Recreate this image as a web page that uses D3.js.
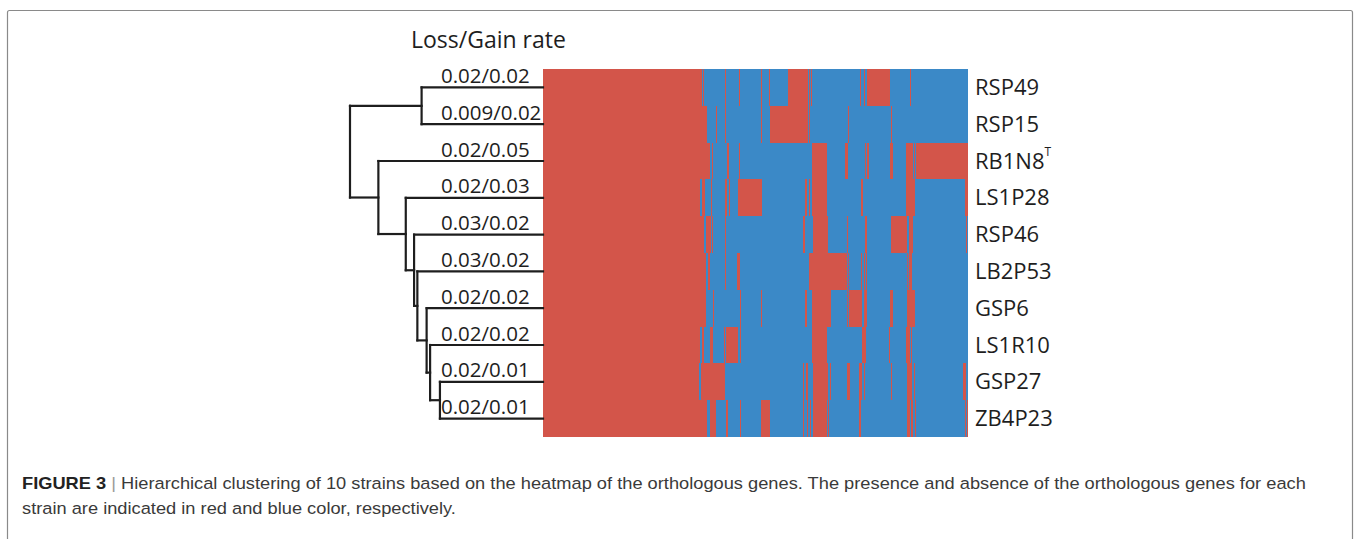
<!DOCTYPE html>
<html>
<head>
<meta charset="utf-8">
<script src="https://cdn.jsdelivr.net/npm/d3@7/dist/d3.min.js"></script>
<style>
  html, body { margin: 0; padding: 0; background: #fff; }
  svg { display: block; }
</style>
</head>
<body>
<svg id="chart" width="1354" height="539"></svg>
<script>
// ---------------- DATA ----------------
const strains = ["RSP49", "RSP15", "RB1N8", "LS1P28", "RSP46", "LB2P53", "GSP6", "LS1R10", "GSP27", "ZB4P23"];
const superscripts = ["", "", "T", "", "", "", "", "", "", ""];
const rates = ["0.02/0.02", "0.009/0.02", "0.02/0.05", "0.02/0.03", "0.03/0.02", "0.03/0.02", "0.02/0.02", "0.02/0.02", "0.02/0.01", "0.02/0.01"];
const geneCount = 425;
// presence runs (red) per strain, [startGene, endGene); remaining genes are absent (blue)
const presenceRuns = [
  [[0,159],[160,161],[182,183],[196,197],[218,219],[226,227],[245,265],[266,267],[268,269],[317,318],[321,322],[324,347],[367,368]],
  [[0,164],[173,174],[182,183],[218,219],[227,265],[266,267],[305,306],[348,349]],
  [[0,167],[169,170],[184,186],[196,197],[269,284],[302,305],[322,323],[324,326],[347,350],[363,370],[371,372],[373,425]],
  [[0,157],[159,162],[168,169],[182,184],[186,187],[195,219],[262,264],[266,267],[269,284],[318,320],[363,364],[364,372],[422,425]],
  [[0,161],[163,168],[169,170],[182,183],[260,262],[270,285],[304,305],[322,324],[348,364],[366,370],[423,424]],
  [[0,163],[165,167],[182,183],[194,197],[266,304],[305,306],[318,319],[321,322],[323,324],[364,365],[366,369]],
  [[0,163],[170,171],[197,198],[218,219],[262,264],[269,288],[304,305],[306,319],[321,322],[322,324],[347,350],[364,372]],
  [[0,157],[159,161],[167,170],[181,182],[183,195],[197,198],[269,284],[319,323],[346,347],[363,367],[368,369]],
  [[0,156],[158,182],[260,261],[263,265],[270,285],[287,288],[304,307],[316,319],[321,322],[348,349],[364,369],[371,372],[420,423]],
  [[0,164],[167,173],[183,185],[197,198],[218,227],[260,261],[264,265],[267,268],[270,284],[285,286],[316,318],[364,367],[368,370],[372,373],[422,423],[424,425]]
];
// dendrogram: merge heights (relative distance, leaves = 0)
const tree = {h: 1.0, children: [
  {h: 0.629, children: [{leaf: "RSP49"}, {leaf: "RSP15"}]},
  {h: 0.853, children: [
    {leaf: "RB1N8"},
    {h: 0.711, children: [
      {leaf: "LS1P28"},
      {h: 0.668, children: [
        {leaf: "RSP46"},
        {h: 0.651, children: [
          {leaf: "LB2P53"},
          {h: 0.603, children: [
            {leaf: "GSP6"},
            {h: 0.585, children: [
              {leaf: "LS1R10"},
              {h: 0.534, children: [{leaf: "GSP27"}, {leaf: "ZB4P23"}]}
            ]}
          ]}
        ]}
      ]}
    ]}
  ]}
]};
const headerText = "Loss/Gain rate";
const captionBold = "FIGURE 3";
const captionLine1 = "Hierarchical clustering of 10 strains based on the heatmap of the orthologous genes. The presence and absence of the orthologous genes for each";
const captionLine2 = "strain are indicated in red and blue color, respectively.";

// ---------------- DRAW ----------------
const RED = "#d3554a", BLUE = "#3b89c7";
const svg = d3.select("#chart");

// frame
svg.append("path")
  .attr("d", "M7.5,545 V12.5 Q7.5,10.5 9.5,10.5 H1350.5 Q1352.5,10.5 1352.5,12.5 V545")
  .attr("fill", "none").attr("stroke", "#8a8a8a").attr("stroke-width", 1.2);

const x = d3.scaleLinear().domain([0, geneCount]).range([543, 968]);
const y = d3.scaleBand().domain(strains).range([69, 437]).padding(0);
const rowTop = s => Math.round(y(s));
const rowBottom = s => Math.round(y(s) + y.bandwidth());

// heatmap: blue (absent) background, red (present) runs per strain
const hm = svg.append("g");
hm.append("rect")
  .attr("x", x(0)).attr("y", rowTop(strains[0]))
  .attr("width", x(geneCount) - x(0)).attr("height", rowBottom(strains[strains.length - 1]) - rowTop(strains[0]))
  .attr("fill", BLUE);
strains.forEach((s, i) => {
  hm.append("g").selectAll("rect").data(presenceRuns[i]).join("rect")
    .attr("x", d => x(d[0])).attr("y", rowTop(s))
    .attr("width", d => x(d[1]) - x(d[0])).attr("height", rowBottom(s) - rowTop(s))
    .attr("fill", RED);
});

// dendrogram
const root = d3.hierarchy(tree);
const dx = d3.scaleLinear().domain([0, 1]).range([543, 350]);
root.eachAfter(n => {
  if (n.data.leaf) { n.py = y(n.data.leaf) + y.bandwidth() / 2; n.px = dx(0); }
  else { n.py = d3.mean(n.children, c => c.py); n.px = dx(n.data.h); }
});
const dg = svg.append("g").attr("fill", "none").attr("stroke", "#1e1e1e").attr("stroke-width", 2.2).attr("stroke-linecap", "square");
root.each(n => {
  if (!n.children) return;
  const ys = n.children.map(c => c.py);
  dg.append("line").attr("x1", n.px).attr("x2", n.px).attr("y1", d3.min(ys)).attr("y2", d3.max(ys));
  n.children.forEach(c => {
    dg.append("line").attr("x1", n.px).attr("x2", c.children ? c.px : x(0)).attr("y1", c.py).attr("y2", c.py);
  });
});

// rate labels
svg.append("g").selectAll("text").data(rates).join("text")
  .attr("x", 441).attr("y", (d, i) => y(strains[i]) + y.bandwidth() / 2 - 4.5)
  .attr("font-family", "'Open Sans', sans-serif").attr("font-size", 20.5).attr("fill", "#1e1e1e")
  .text(d => d);

svg.append("text").attr("x", 411).attr("y", 47.5)
  .attr("font-family", "'Open Sans', sans-serif").attr("font-size", 23).attr("fill", "#1e1e1e")
  .text(headerText);

// strain labels
const sl = svg.append("g").selectAll("text").data(strains).join("text")
  .attr("x", 975).attr("y", d => y(d) + y.bandwidth() / 2 + 7.5)
  .attr("font-family", "'Open Sans', sans-serif").attr("font-size", 22).attr("fill", "#1e1e1e");
sl.append("tspan").text(d => d);
sl.append("tspan").attr("font-size", 12).attr("dy", -13).text((d, i) => superscripts[i]);

// caption
const cap = svg.append("g").attr("transform", "translate(22,0)");
const cg = cap.append("g");
const l1 = cg.append("text").attr("x", 0).attr("y", 489)
  .attr("font-family", "'Liberation Sans', Arial, sans-serif").attr("font-size", 16.5).attr("fill", "#3a3a3a");
l1.append("tspan").attr("font-weight", "bold").attr("fill", "#222").text(captionBold);
l1.append("tspan").attr("fill", "#999").text("  |  ");
l1.append("tspan").text(captionLine1);
const l2 = cg.append("text").attr("x", 0).attr("y", 514.5)
  .attr("font-family", "'Liberation Sans', Arial, sans-serif").attr("font-size", 16.5).attr("fill", "#3a3a3a")
  .text(captionLine2);
const natural = l1.node().getComputedTextLength();
const sx = 1285 / natural;
cg.attr("transform", `scale(${sx},1)`);
</script>
</body>
</html>
